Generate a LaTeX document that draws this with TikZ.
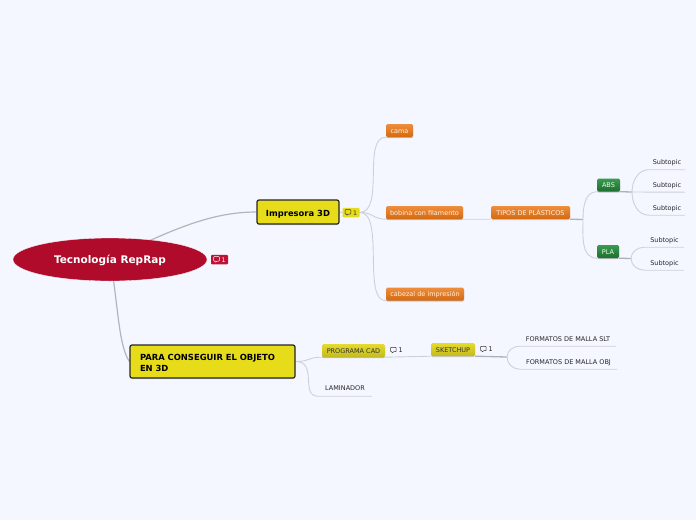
\documentclass[tikz,border=0pt]{standalone}
\usepackage{fontspec}
\setmainfont{DejaVu Sans}
\usetikzlibrary{shapes.geometric, shadows, backgrounds}

\definecolor{pagebg}{HTML}{F4F7FF}
\definecolor{rootred}{HTML}{B00B2B}
\definecolor{badgered}{HTML}{C01236}
\definecolor{mainyellow}{HTML}{E6DC1A}
\definecolor{rootline}{HTML}{B4B5B8}
\definecolor{thinline}{HTML}{CDD0DA}
\definecolor{orangetop}{HTML}{EE8E3E}
\definecolor{orangelow}{HTML}{D4690F}
\definecolor{greentop}{HTML}{3C9A50}
\definecolor{greenlow}{HTML}{1E6E30}
\definecolor{olivetop}{HTML}{E4DA30}
\definecolor{olivelow}{HTML}{C4BA1C}

\newcommand{\cmticon}[1]{\tikz[baseline=0pt,x=1pt,y=1pt]{\draw[#1, line width=0.5pt, rounded corners=0.6pt]
    (0,1.2) -- (0,5.6) -- (5.6,5.6) -- (5.6,1.2) -- (3,1.2) -- (1.6,0) -- (1.6,1.2) -- cycle;}}

\begin{document}
\begin{tikzpicture}[
    x=1pt, y=-1pt,
    softshadow/.style={drop shadow={shadow xshift=0pt, shadow yshift=-1pt, opacity=0.3, fill=black!60}},
    rootnode/.style={ellipse, fill=rootred, draw=white, line width=0.3pt, inner sep=0pt, text=white,
        minimum width=194pt, minimum height=43pt, text height=8.6pt, text depth=0.6pt,
        font=\fontsize{10.5}{12}\selectfont\bfseries},
    mainnode/.style={rectangle, rounded corners=2pt, draw=black!85, line width=1.2pt, fill=mainyellow, inner sep=0pt,
        softshadow, font=\fontsize{8.4}{10.8}\selectfont\bfseries},
    orangenode/.style={rectangle, rounded corners=1.5pt, top color=orangetop, bottom color=orangelow,
        inner sep=0pt, minimum height=13pt, text height=6pt, text depth=0.2pt, softshadow, text=orange!10!white,
        font=\fontsize{6.5}{8}\selectfont},
    greennode/.style={rectangle, rounded corners=1.5pt, top color=greentop, bottom color=greenlow,
        inner sep=0pt, minimum height=13pt, text height=6pt, text depth=0.2pt, softshadow, text=green!10!white,
        font=\fontsize{6.5}{8}\selectfont},
    olivenode/.style={rectangle, rounded corners=1.5pt, top color=olivetop, bottom color=olivelow,
        inner sep=0pt, minimum height=13pt, text height=6pt, text depth=0.2pt, softshadow, text=black!80,
        font=\fontsize{6.5}{8}\selectfont},
    plainnode/.style={inner sep=0pt, minimum height=15pt, text height=6pt, text depth=0.2pt, text=black!85,
        font=\fontsize{6.5}{8}\selectfont},
    badge/.style={rectangle, rounded corners=1pt, inner sep=0pt, minimum width=17pt, minimum height=9.5pt,
        font=\fontsize{6.2}{8}\selectfont},
    rootlink/.style={draw=rootline, line width=1.2pt},
    link/.style={draw=thinline, line width=0.9pt},
    thicklink/.style={draw=thinline!85!black, line width=1.3pt}
]

\useasboundingbox (0,0) rectangle (696,520);
\begin{scope}[on background layer]
\fill[pagebg] (0,0) rectangle (696,520);
\end{scope}

% --- Nodo central ---
\node[rootnode] (root) at (110,259.5) {Tecnología RepRap};
\node[badge, fill=badgered, text=white] (rootcmt) at (219.5,259.5) {\cmticon{white}\,\,1};

% --- Ramas principales ---
\node[mainnode, minimum width=82pt, minimum height=24pt, text height=9pt, text depth=0.4pt] (impresora) at (298,212) {Impresora 3D};
\node[badge, fill=mainyellow, text=black!80] (impcmt) at (351,212.5) {\cmticon{black!80}\,\,1};
\node[mainnode, minimum width=165pt, minimum height=33pt, align=left, text width=145pt] (objeto) at (212.5,361.5)
    {\rule{0pt}{9pt}PARA CONSEGUIR EL OBJETO\\EN 3D};

% --- Impresora 3D ---
\node[orangenode, minimum width=27pt] (cama) at (399.5,130.5) {cama};
\node[orangenode, minimum width=77pt] (bobina) at (424.5,212.5) {bobina con filamento};
\node[orangenode, minimum width=78pt] (cabezal) at (425,294) {cabezal de impresión};
\node[orangenode, minimum width=79pt] (tipos) at (530.5,212.5) {TIPOS DE PLÁSTICOS};
\node[greennode, minimum width=23pt] (abs) at (608.5,185) {ABS};
\node[greennode, minimum width=22pt] (pla) at (608,251.5) {PLA};

\node[plainnode, minimum width=36pt] (absa) at (667,162) {Subtopic};
\node[plainnode, minimum width=36pt] (absb) at (667,184.5) {Subtopic};
\node[plainnode, minimum width=36pt] (absc) at (667,207.5) {Subtopic};
\node[plainnode, minimum width=39pt] (plaa) at (664.5,239.5) {Subtopic};
\node[plainnode, minimum width=39pt] (plab) at (664.5,262.5) {Subtopic};

% --- Para conseguir el objeto ---
\node[olivenode, minimum width=63pt] (cad) at (353.5,350.5) {PROGRAMA CAD};
\node[plainnode] (cadcmt) at (396.5,350) {\cmticon{black!80}\,\,1};
\node[olivenode, minimum width=44pt] (sketchup) at (453,349.5) {SKETCHUP};
\node[plainnode] (skcmt) at (486.5,349) {\cmticon{black!80}\,\,1};
\node[plainnode, minimum width=54pt, minimum height=16pt] (laminador) at (345,388) {LAMINADOR};
\node[plainnode, minimum width=96pt] (slt) at (568,338.5) {FORMATOS DE MALLA SLT};
\node[plainnode, minimum width=97pt] (obj) at (568.5,361.5) {FORMATOS DE MALLA OBJ};

\coordinate (tiposjoin) at (583,219.5);
\coordinate (absjoin) at (632,192);
\coordinate (plajoin) at (631,258.5);
\coordinate (skjoin) at (507,357);

% --- Conexiones ---
\begin{scope}[on background layer]
\draw[rootlink] (root.center) .. controls (178,226) and (215,212) .. (impresora.west);
\draw[rootlink] (root.center) .. controls (118,300) and (118,345) .. (objeto.west);

\draw[link] (impresora.east) -- (impcmt.west);
\draw[link] (impcmt.east) .. controls (385,212) and (362,137) .. (cama.south west) -- (cama.south east);
\draw[link] (impcmt.east) .. controls (372,212) and (374,219.5) .. (bobina.south west) -- (bobina.south east) -- (tipos.south west);
\draw[link] (impcmt.east) .. controls (385,212) and (362,301) .. (cabezal.south west) -- (cabezal.south east);

\draw[thicklink] (tipos.south east) -- (tiposjoin);
\draw[link] (tiposjoin) to[out=90, in=180] (abs.south west) -- (abs.south east);
\draw[link] (tiposjoin) to[out=-90, in=180] (pla.south west) -- (pla.south east);
\draw[thicklink] (abs.south east) -- (absjoin);
\draw[thicklink] (pla.south east) -- (plajoin);
\draw[link] (absjoin) to[out=90, in=180] (absa.south west) -- (absa.south east);
\draw[link] (absjoin) -- (absb.south east);
\draw[link] (absjoin) to[out=-90, in=180] (absc.south west) -- (absc.south east);
\draw[link] (plajoin) to[out=90, in=180] (plaa.south west) -- (plaa.south east);
\draw[link] (plajoin) to[out=-90, in=180] (plab.south west) -- (plab.south east);

\draw[link] (objeto.east) .. controls (310,361.5) and (308,357) .. (cad.south west) -- (cad.south east) -- (sketchup.south west);
\draw[link] (objeto.east) .. controls (318,361.5) and (300,396) .. (laminador.south west) -- (laminador.south east);
\draw[thicklink] (sketchup.south east) -- (skjoin);
\draw[link] (skjoin) to[out=90, in=180] (slt.south west) -- (slt.south east);
\draw[link] (skjoin) to[out=-90, in=180] (obj.south west) -- (obj.south east);
\end{scope}

\end{tikzpicture}
\end{document}
